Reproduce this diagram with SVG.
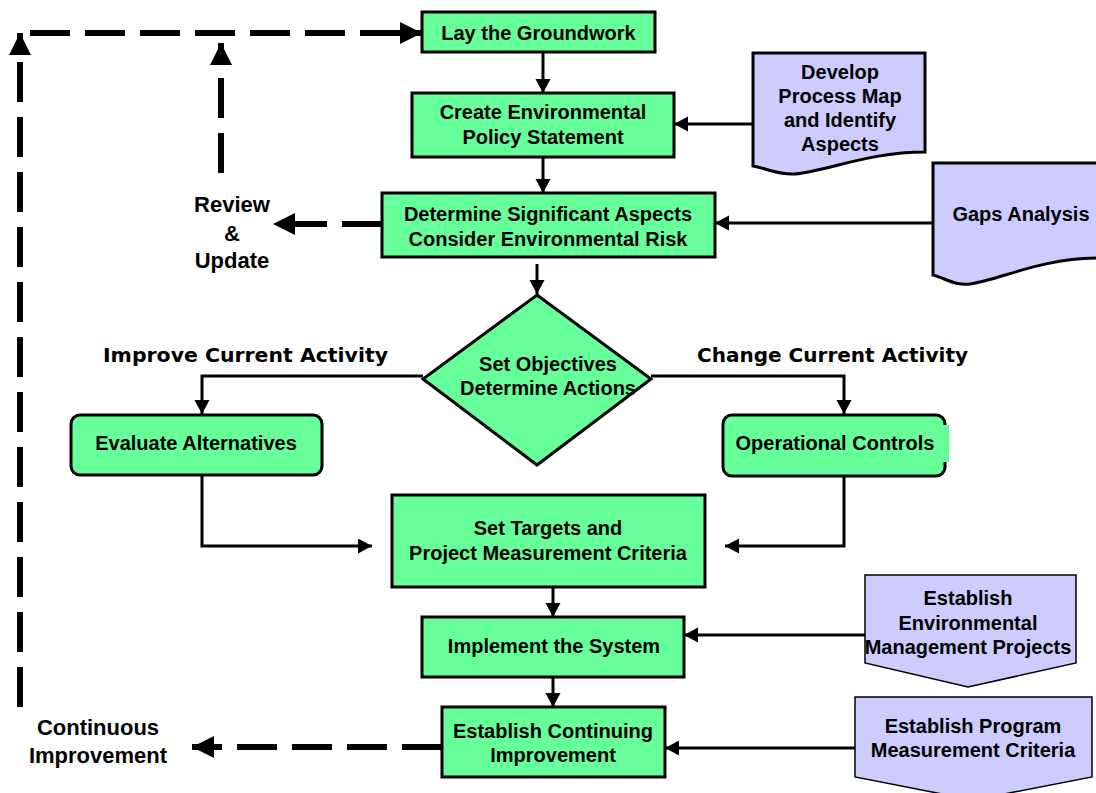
<svg xmlns="http://www.w3.org/2000/svg" width="1096" height="793" viewBox="0 0 1096 793">
<style>
.box{fill:#66FF99;stroke:#000;stroke-width:3}
.doc{fill:#CCCCFF;stroke:#000;stroke-width:3}
.t{font-family:"Liberation Sans",Arial,sans-serif;font-weight:bold;font-size:20px;fill:#000;text-anchor:middle}
.lbl{font-family:"Liberation Sans",Arial,sans-serif;font-weight:bold;font-size:22px;fill:#000;text-anchor:middle}
.cm{font-family:"Comic Sans MS","DejaVu Sans",sans-serif;font-weight:bold;font-size:20px;fill:#000}
.c{fill:none;stroke:#000;stroke-width:3}
.d{fill:none;stroke:#000;stroke-width:6;stroke-dasharray:40 15}
</style>
<defs>
<marker id="a" markerUnits="userSpaceOnUse" markerWidth="16" markerHeight="16" refX="14" refY="7.5" orient="auto"><path d="M0,0 L14,7.5 L0,15 z" fill="#000"/></marker>
<marker id="da" markerUnits="userSpaceOnUse" markerWidth="24" markerHeight="24" refX="22" refY="11" orient="auto"><path d="M0,0 L22,11 L0,22 z" fill="#000"/></marker>
</defs>
<g id="connectors">
<path class="c" d="M543,52 V93" marker-end="url(#a)"/>
<path class="c" d="M543,157 V193" marker-end="url(#a)"/>
<path class="c" d="M537,264 V294" marker-end="url(#a)"/>
<path class="c" d="M753,124 H674" marker-end="url(#a)"/>
<path class="c" d="M933,223 H715" marker-end="url(#a)"/>
<path class="c" d="M423,376 H202 V414" marker-end="url(#a)"/>
<path class="c" d="M651,376 H844 V414" marker-end="url(#a)"/>
<path class="c" d="M202,475 V546 H372" marker-end="url(#a)"/>
<path class="c" d="M844,476 V546 H725" marker-end="url(#a)"/>
<path class="c" d="M553,587 V617" marker-end="url(#a)"/>
<path class="c" d="M553,677 V707" marker-end="url(#a)"/>
<path class="c" d="M865,635 H684" marker-end="url(#a)"/>
<path class="c" d="M855,748 H665" marker-end="url(#a)"/>
<path class="d" d="M20,707 V33" marker-end="url(#da)"/>
<path class="d" d="M30,33 H422" marker-end="url(#da)"/>
<path class="d" d="M221,173 V43" marker-end="url(#da)"/>
<path class="d" d="M382,224 H273" marker-end="url(#da)"/>
<path class="d" d="M442,747 H192" marker-end="url(#da)"/>
</g>
<g id="lay"><rect class="box" x="422" y="12" width="233" height="40"/><text class="t" x="538.5" y="40">Lay the Groundwork</text></g>
<g id="create"><rect class="box" x="412" y="93" width="262" height="64"/><text class="t" x="543" y="119">Create Environmental</text><text class="t" x="543" y="144">Policy Statement</text></g>
<g id="develop"><path class="doc" d="M753,53 H925 V152 C870,152 830,170 795,174 C778,175 765,168 753,166 Z"/><text class="t" x="840" y="79">Develop</text><text class="t" x="840" y="103">Process Map</text><text class="t" x="840" y="127">and Identify</text><text class="t" x="840" y="151">Aspects</text></g>
<g id="determine"><rect class="box" x="382" y="193" width="333" height="64"/><text class="t" x="548" y="221">Determine Significant Aspects</text><text class="t" x="548" y="246">Consider Environmental Risk</text></g>
<g id="gaps"><path class="doc" d="M933,163 H1100 V258 C1040,258 1000,280 970,284 C955,286 945,278 933,275 Z"/><text class="t" x="1021" y="221">Gaps Analysis</text></g>
<g id="review"><text class="lbl" x="232" y="212">Review</text><text class="lbl" x="232" y="241">&amp;</text><text class="lbl" x="232" y="268">Update</text></g>
<g id="objectives"><polygon class="box" points="537,295 651,379 537,465 423,379"/><text class="t" x="548" y="371">Set Objectives</text><text class="t" x="548" y="395">Determine Actions</text></g>
<g id="labels"><text class="cm" x="103" y="362" textLength="285" lengthAdjust="spacingAndGlyphs">Improve Current Activity</text><text class="cm" x="697" y="362" textLength="271" lengthAdjust="spacingAndGlyphs">Change Current Activity</text></g>
<g id="evaluate"><rect class="box" x="71" y="415" width="251" height="60" rx="9"/><text class="t" x="196" y="450">Evaluate Alternatives</text></g>
<g id="operational"><rect class="box" x="723" y="415" width="222" height="61" rx="9"/><rect x="940" y="425" width="9" height="37" fill="#66FF99"/><text class="t" x="835" y="450">Operational Controls</text></g>
<g id="targets"><rect class="box" x="392" y="495" width="313" height="92"/><text class="t" x="548" y="535">Set Targets and</text><text class="t" x="548" y="560">Project Measurement Criteria</text></g>
<g id="implement"><rect class="box" x="422" y="617" width="262" height="60"/><text class="t" x="554" y="653">Implement the System</text></g>
<g id="envprojects"><path class="doc" style="stroke-width:1.5" d="M865,575 H1076 V663 L968,687 L865,663 Z"/><text class="t" x="968" y="605">Establish</text><text class="t" x="968" y="630">Environmental</text><text class="t" x="968" y="654">Management Projects</text></g>
<g id="continuing"><rect class="box" x="442" y="707" width="223" height="70"/><text class="t" x="553" y="738">Establish Continuing</text><text class="t" x="553" y="762">Improvement</text></g>
<g id="program"><path class="doc" style="stroke-width:1.5" d="M855,697 H1092 V777 L973,800 L855,777 Z"/><text class="t" x="973" y="733">Establish Program</text><text class="t" x="973" y="757">Measurement Criteria</text></g>
<g id="continuous"><text class="lbl" x="98" y="735">Continuous</text><text class="lbl" x="98" y="763">Improvement</text></g>
</svg>
